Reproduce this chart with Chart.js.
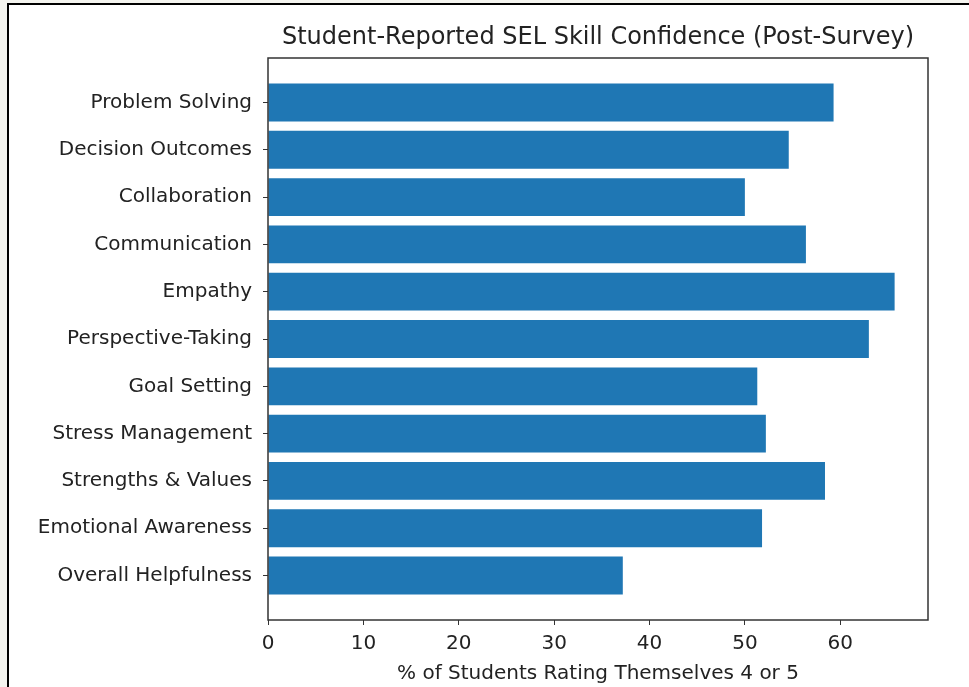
<!DOCTYPE html>
<html>
<head>
<meta charset="utf-8">
<script src="https://cdn.jsdelivr.net/npm/chart.js@4"></script>
<style>
  html, body { margin: 0; padding: 0; background: #f4f4ef; }
  #frame {
    position: absolute; left: 7px; top: 3px; right: 0; bottom: 0;
    background: #fff; border-left: 2px solid #000; border-top: 2px solid #000;
  }
  #wrap { position: absolute; left: 0; top: 0; width: 969px; height: 687px; }
</style>
</head>
<body>
<div id="frame"></div>
<div id="wrap"><canvas id="selChart"></canvas></div>
<script>
const skills = [
    'Problem Solving', 'Decision Outcomes', 'Collaboration', 'Communication',
    'Empathy', 'Perspective-Taking', 'Goal Setting', 'Stress Management',
    'Strengths & Values', 'Emotional Awareness', 'Overall Helpfulness',
];
const percentRating45 = [59.3, 54.6, 50.0, 56.4, 65.7, 63.0, 51.3, 52.2, 58.4, 51.8, 37.2];
const xTicks = [0, 10, 20, 30, 40, 50, 60];

const FONT = "'DejaVu Sans', sans-serif";
const INK = '#222';

// matplotlib-style box around the plot area
const boxPlugin = {
    id: 'box',
    afterDraw(chart) {
        const a = chart.chartArea;
        const c = chart.ctx;
        c.save();
        c.strokeStyle = '#333';
        c.lineWidth = 1.5;
        c.strokeRect(a.left, a.top, a.right - a.left, a.bottom - a.top);
        c.restore();
    },
};

const ctx = document.getElementById('selChart').getContext('2d');
const selChart = new Chart(ctx, {
    type: 'bar',
    data: {
        datasets: [{
            label: '% rating 4 or 5',
            data: percentRating45.map((v, i) => ({ x: v, y: i })),
            backgroundColor: '#1f77b4',
            barPercentage: 0.8,
            categoryPercentage: 1.0,
        }],
    },
    options: {
        indexAxis: 'y',
        responsive: true,
        maintainAspectRatio: false,
        animation: false,
        layout: { padding: { left: 0, right: 41, top: 0, bottom: 0 } },
        plugins: {
            legend: { display: false },
            tooltip: { enabled: false },
            title: {
                display: true,
                fullSize: false,
                text: 'Student-Reported SEL Skill Confidence (Post-Survey)',
                color: INK,
                font: { family: FONT, size: 24, weight: 'normal', lineHeight: 1.2 },
                padding: { top: 23, bottom: 6.2 },
            },
        },
        scales: {
            x: {
                type: 'linear',
                min: 0,
                max: 69.2,
                afterBuildTicks: (axis) => { axis.ticks = xTicks.map(v => ({ value: v })); },
                afterFit: (axis) => { axis.height = 67; },
                grid: { drawOnChartArea: false, drawTicks: true, tickLength: 5, color: '#333' },
                border: { display: false },
                ticks: { color: INK, font: { family: FONT, size: 20 }, padding: 7, maxRotation: 0 },
                title: {
                    display: true,
                    text: '% of Students Rating Themselves 4 or 5',
                    color: INK,
                    font: { family: FONT, size: 20, lineHeight: 1.2 },
                    padding: { top: 2, bottom: 1.5 },
                },
            },
            y: {
                type: 'linear',
                reverse: true,
                offset: false,
                min: -0.94,
                max: 10.94,
                afterBuildTicks: (axis) => { axis.ticks = skills.map((_, i) => ({ value: i })); },
                afterFit: (axis) => { axis.width = 268; },
                grid: { offset: false, drawOnChartArea: false, drawTicks: true, tickLength: 5, color: '#333' },
                border: { display: false },
                ticks: {
                    color: INK,
                    font: { family: FONT, size: 20 },
                    padding: 11,
                    callback: (v) => skills[v],
                },
            },
        },
    },
    plugins: [boxPlugin],
});
</script>
</body>
</html>
